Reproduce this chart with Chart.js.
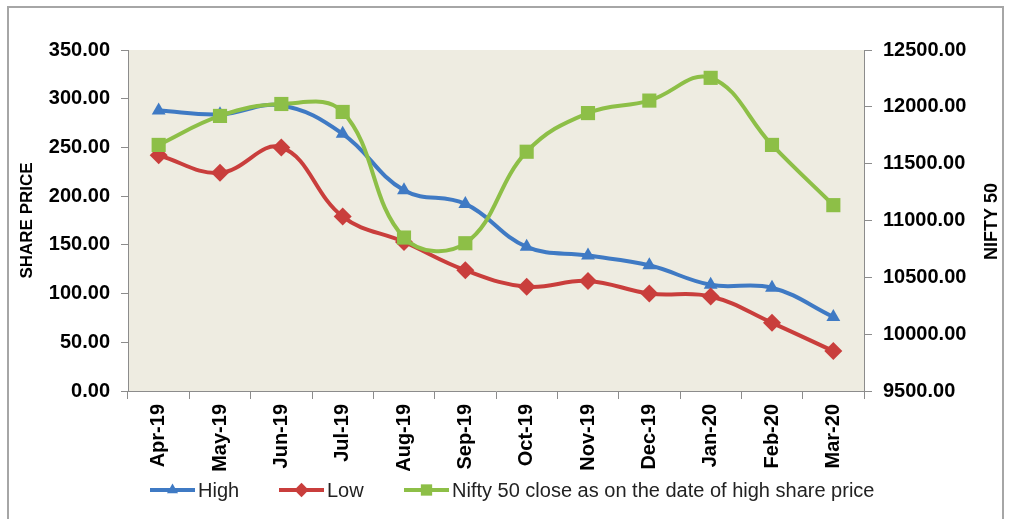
<!DOCTYPE html>
<html>
<head>
<meta charset="utf-8">
<script src="https://cdn.jsdelivr.net/npm/chart.js@4.4.0/dist/chart.umd.min.js"></script>
<style>
  html, body { margin: 0; padding: 0; background: #ffffff; }
  #wrap { position: relative; width: 1010px; height: 519px; }
  canvas { display: block; }
</style>
</head>
<body>
<div id="wrap"><canvas id="c" width="1010" height="519"></canvas></div>
<script>
const categories = ["Apr-19","May-19","Jun-19","Jul-19","Aug-19","Sep-19","Oct-19","Nov-19","Dec-19","Jan-20","Feb-20","Mar-20"];
const highValues = [288, 284, 293, 264, 206, 192, 148, 139, 129, 109, 106, 76];
const lowValues  = [242, 224, 250, 179, 153, 124, 107, 113, 100, 97, 70, 41];
const niftyValues = [11665, 11920, 12025, 11955, 10850, 10800, 11605, 11945, 12055, 12255, 11665, 11135];
const leftTicks = { min: 0, max: 350, step: 50 };
const rightTicks = { min: 9500, max: 12500, step: 500 };
const seriesNames = ["High", "Low", "Nifty 50 close as on the date of high share price"];
const axisTitles = ["SHARE PRICE", "NIFTY 50"];

const BLUE = "#3F7AC4", RED = "#C93E3C", GREEN = "#8DBF47";
const AXIS = "#8c8c8c";

const bgPlugin = {
  id: "bg",
  beforeDraw(chart) {
    const {ctx, chartArea: a} = chart;
    ctx.save();
    ctx.fillStyle = "#EEECE1";
    ctx.fillRect(a.left, a.top, a.right - a.left, a.bottom - a.top);
    ctx.strokeStyle = "#a6a6a6";
    ctx.lineWidth = 2;
    ctx.strokeRect(8, 7, 995, 540);
    ctx.restore();
  },
  afterDraw(chart) {
    const ctx = chart.ctx;
    const a = chart.chartArea;
    ctx.save();
    // right axis title, reading bottom-to-top like the left one
    ctx.fillStyle = "#000";
    ctx.font = "bold 18px 'Liberation Sans', Arial, sans-serif";
    ctx.textAlign = "center";
    ctx.textBaseline = "middle";
    ctx.translate(992, (a.top + a.bottom) / 2 + 1);
    ctx.rotate(-Math.PI / 2);
    ctx.fillText(axisTitles[1], 0, 0);
    ctx.restore();

    const xs = [150, 279, 404];
    const y = 490;
    ctx.save();
    chart.data.datasets.forEach((ds, i) => {
      ctx.strokeStyle = ds.borderColor;
      ctx.lineWidth = 4;
      ctx.beginPath();
      ctx.moveTo(xs[i], y);
      ctx.lineTo(xs[i] + 45, y);
      ctx.stroke();
      ctx.fillStyle = ds.borderColor;
      Chart.helpers.drawPoint(ctx, {pointStyle: ds.pointStyle, radius: ds.pointRadius * 0.8, rotation: 0, borderWidth: 0}, xs[i] + 22.5, y);
      ctx.fillStyle = "#222";
      ctx.font = "20px 'Liberation Sans', Arial, sans-serif";
      ctx.textBaseline = "middle";
      ctx.textAlign = "left";
      ctx.fillText(ds.label, xs[i] + 48, y + 1);
    });
    ctx.restore();
  }
};

const tickFont = { family: "'Liberation Sans', Arial, sans-serif", size: 20, weight: "bold" };

new Chart(document.getElementById("c"), {
  type: "line",
  data: {
    labels: categories,
    datasets: [
      { label: seriesNames[0], data: highValues, yAxisID: "y", borderColor: BLUE, backgroundColor: BLUE,
        pointStyle: "triangle", pointRadius: 8, pointBorderWidth: 0, order: 2 },
      { label: seriesNames[1], data: lowValues, yAxisID: "y", borderColor: RED, backgroundColor: RED,
        pointStyle: "rectRot", pointRadius: 9, pointBorderWidth: 0, order: 1 },
      { label: seriesNames[2], data: niftyValues, yAxisID: "y2", borderColor: GREEN, backgroundColor: GREEN,
        pointStyle: "rect", pointRadius: 10, pointBorderWidth: 0, order: 0 }
    ].map(d => Object.assign({ borderWidth: 4, tension: 0.4, fill: false, pointHoverRadius: d.pointRadius }, d))
  },
  options: {
    responsive: false,
    animation: false,
    layout: { padding: { top: 50, left: 0, right: 0, bottom: 48 } },
    plugins: { legend: { display: false }, tooltip: { enabled: false } },
    scales: {
      x: {
        type: "category",
        offset: true,
        grid: { display: true, drawOnChartArea: false, drawTicks: true, tickLength: 8, color: AXIS, offset: true },
        border: { display: true, color: AXIS, width: 1 },
        ticks: { color: "#000", font: tickFont, minRotation: 90, maxRotation: 90, padding: 5, autoSkip: false },
        afterFit(s) { s.height = 80; }
      },
      y: {
        position: "left",
        min: leftTicks.min, max: leftTicks.max,
        grid: { display: true, drawOnChartArea: false, drawTicks: true, tickLength: 7, color: AXIS },
        border: { display: true, color: AXIS, width: 1 },
        ticks: { stepSize: leftTicks.step, color: "#000", font: tickFont, padding: 11, callback: v => Number(v).toFixed(2) },
        title: { display: true, text: axisTitles[0], color: "#000", padding: { top: 17, bottom: 0 },
          font: { family: "'Liberation Sans', Arial, sans-serif", size: 17, weight: "bold" } },
        afterFit(s) { s.width = 128; }
      },
      y2: {
        position: "right",
        min: rightTicks.min, max: rightTicks.max,
        grid: { display: true, drawOnChartArea: false, drawTicks: true, tickLength: 8, color: AXIS },
        border: { display: true, color: AXIS, width: 1 },
        ticks: { stepSize: rightTicks.step, color: "#000", font: tickFont, padding: 11, callback: v => Number(v).toFixed(2) },
        title: { display: false },
        afterFit(s) { s.width = 146; }
      }
    }
  },
  plugins: [bgPlugin]
});
</script>
</body>
</html>
